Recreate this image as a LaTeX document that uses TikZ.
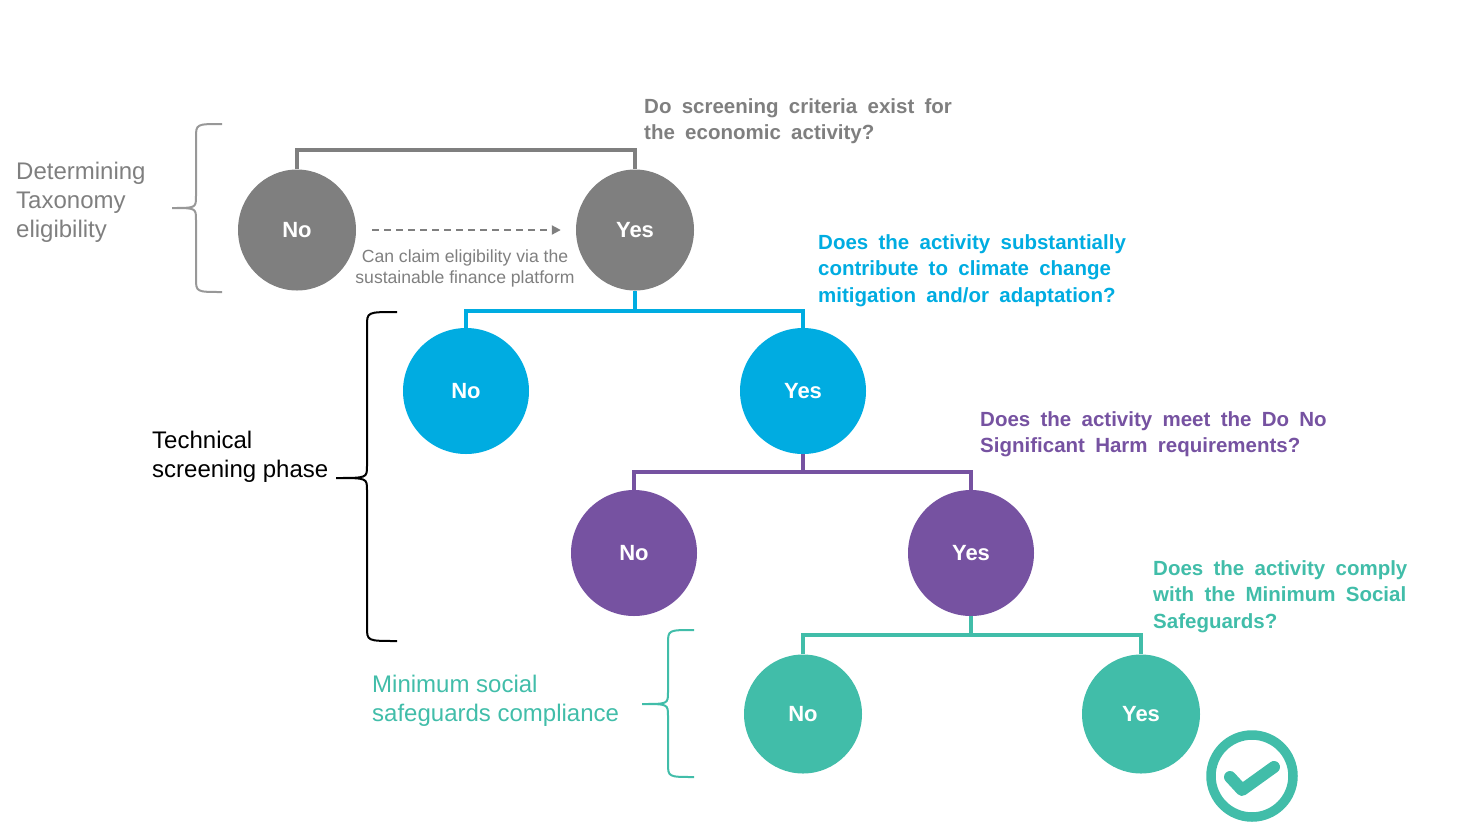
\documentclass[tikz,border=0pt]{standalone}
\usepackage{fontspec}
\setmainfont{Liberation Sans}
\usetikzlibrary{shapes.geometric,arrows.meta}
\definecolor{cgray}{HTML}{7F7F7F}
\definecolor{cblue}{HTML}{00ACE1}
\definecolor{cpurple}{HTML}{7652A1}
\definecolor{cteal}{HTML}{41BDA9}
\newcommand\qspacing{\spaceskip=10.3pt plus 2pt minus 1pt\relax}
\newcommand\mybrace[7]{\draw[bracestyle,#1] (#2,#5) .. controls (#3,#5) .. (#3,#5+14) -- (#3,#6-12) .. controls (#3,#6) .. (#4,#6) .. controls (#3,#6) .. (#3,#6+12) -- (#3,#7-14) .. controls (#3,#7) .. (#2,#7);}
\begin{document}
\begin{tikzpicture}[x=1pt,y=-1pt,
  circ/.style={ellipse, inner sep=0pt, text=white, font=\bfseries\fontsize{22}{26}\selectfont},
  conn/.style={line width=4pt, line join=miter},
  question/.style={anchor=north west, inner sep=0pt, align=left, font=\bfseries\fontsize{20.5}{26.5}\selectfont\qspacing},
  sidetext/.style={anchor=north west, inner sep=0pt, align=left, font=\fontsize{24}{29}\selectfont},
  bracestyle/.style={line width=2pt}]
\useasboundingbox (0,0) rectangle (1457,823);
% circles
\node[circ, fill=cgray, minimum width=118pt, minimum height=121pt] (gno) at (297,230) {No};
\node[circ, fill=cgray, minimum width=118pt, minimum height=121pt] (gyes) at (635,230) {Yes};
\node[circ, fill=cblue, minimum width=126pt, minimum height=126pt] (bno) at (466,391) {No};
\node[circ, fill=cblue, minimum width=126pt, minimum height=126pt] (byes) at (803,391) {Yes};
\node[circ, fill=cpurple, minimum width=126pt, minimum height=126pt] (pno) at (634,553) {No};
\node[circ, fill=cpurple, minimum width=126pt, minimum height=126pt] (pyes) at (971,553) {Yes};
\node[circ, fill=cteal, minimum width=118pt, minimum height=119pt] (tno) at (803,714) {No};
\node[circ, fill=cteal, minimum width=118pt, minimum height=119pt] (tyes) at (1141,714) {Yes};
% connectors
\coordinate (gj) at (466,150);
\draw[conn, cgray] (gno.north) -- (gno.north |- gj) -- (gyes.north |- gj) -- (gyes.north);
\coordinate (bj) at (0,311);
\draw[conn, cblue] (gyes.south) -- (gyes.south |- bj);
\draw[conn, cblue] (bno.north) -- (bno.north |- bj) -- (byes.north |- bj) -- (byes.north);
\coordinate (pj) at (0,472);
\draw[conn, cpurple] (byes.south) -- (byes.south |- pj);
\draw[conn, cpurple] (pno.north) -- (pno.north |- pj) -- (pyes.north |- pj) -- (pyes.north);
\coordinate (tj) at (0,635);
\draw[conn, cteal] (pyes.south) -- (pyes.south |- tj);
\draw[conn, cteal] (tno.north) -- (tno.north |- tj) -- (tyes.north |- tj) -- (tyes.north);
% dashed arrow
\draw[cgray, line width=2pt, dash pattern=on 7pt off 5pt, shorten <=16pt, shorten >=15pt, -{Triangle[length=9pt,width=9pt]}] (gno) -- (gyes);
\node[font=\fontsize{17.6}{21}\selectfont, text=cgray, align=center, anchor=north, inner sep=0pt] (cap) at (465,250) {Can claim eligibility via the\\sustainable finance platform};
% questions
\node[question, text=cgray] (q1) at (644,98) {Do screening criteria exist for\\the economic activity?};
\node[question, text=cblue] (q2) at (818,234) {Does the activity substantially\\contribute to climate change\\mitigation and/or adaptation?};
\node[question, text=cpurple] (q3) at (980,411) {Does the activity meet the Do No\\Significant Harm requirements?};
\node[question, text=cteal] (q4) at (1153,560) {Does the activity comply\\with the Minimum Social\\Safeguards?};
% side labels
\node[sidetext, text=cgray] (l1) at (16,162) {Determining\\Taxonomy\\eligibility};
\node[sidetext, text=black] (l2) at (152,431) {Technical\\screening phase};
\node[sidetext, text=cteal] (l3) at (372,675) {Minimum social\\safeguards compliance};
% braces
\mybrace{cgray!80}{222}{196}{172}{124}{208}{292}
\mybrace{black}{397}{367}{336}{312}{478}{641}
\mybrace{cteal}{694}{668}{642}{630}{704}{777}
% check mark
\draw[cteal, line width=9.5pt] (1252,776) circle (41pt);
\draw[cteal, line width=12pt, line cap=round, line join=round] (1230,777) -- (1242,790) -- (1274,767);
\end{tikzpicture}
\end{document}
